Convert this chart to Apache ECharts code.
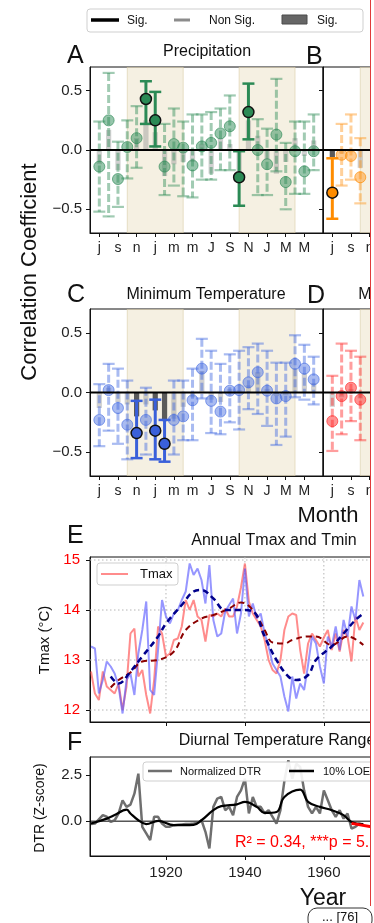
<!DOCTYPE html>
<html><head><meta charset="utf-8">
<script src="https://cdn.jsdelivr.net/npm/echarts@6/dist/echarts.min.js"></script>
<style>html,body{margin:0;padding:0;background:#fff;overflow:hidden;width:374px;height:923px}#c{width:640px;height:923px}</style>
</head><body><div id="c"></div><script>
const FONT = "'Liberation Sans', Arial, Helvetica, sans-serif";

// ---------- month panels ----------
const monthLabels = ['j','a','s','o','n','d','j','f','m','a','m','j','J','A','S','O','N','D','J','F','M','A','M','J'];
const monthTicks = [0,2,4,6,8,10,12,14,16,18,20,22];
const seasonSpans = [[3,9],[15,21]];
const corrTicks = [-0.5, 0, 0.5];

// A: Precipitation
const precipR   = [-0.14, 0.25, -0.245, 0.025, 0.10, 0.43, 0.25, -0.14, 0.05, 0.02, -0.13, 0.03, 0.06, 0.14, 0.20, -0.23, 0.32, 0.00, -0.12, 0.13, -0.27, -0.01, -0.18, -0.01];
const precipHi  = [0.24, 0.65, 0.07, 0.25, 0.37, 0.58, 0.49, 0.22, 0.35, 0.24, 0.30, 0.30, 0.32, 0.35, 0.46, -0.01, 0.56, 0.26, 0.18, 0.60, 0.06, 0.24, 0.24, 0.30];
const precipLo  = [-0.52, -0.56, -0.48, -0.24, -0.15, 0.22, 0.03, -0.38, -0.30, -0.39, -0.40, -0.25, -0.25, -0.17, -0.17, -0.47, 0.09, -0.38, -0.38, -0.18, -0.50, -0.37, -0.37, -0.17];
const precipBar = [-0.12, 0.17, -0.17, 0.00, 0.10, 0.25, 0.15, -0.22, -0.12, -0.10, -0.10, 0.05, -0.20, 0.10, 0.05, -0.20, 0.25, 0.12, -0.08, -0.20, -0.10, 0.10, -0.05, 0.08];
const precipSig = [5, 6, 15, 16];
const precipBarSig = [];

// B (orange, visible part)
const panelBR   = [-0.36, -0.04, -0.05, -0.23];
const panelBHi  = [-0.07, 0.22, 0.30, 0.10];
const panelBLo  = [-0.58, -0.30, -0.25, -0.45];
const panelBBar = [-0.06, -0.03, -0.02, -0.15];
const panelBSig = [0];
const panelBBarSig = [0];

// C: Minimum Temperature
const tminR   = [-0.23, 0.02, -0.13, -0.27, -0.34, -0.23, -0.32, -0.43, -0.23, -0.20, -0.065, 0.20, -0.07, -0.16, 0.015, 0.02, 0.085, 0.17, 0.015, -0.05, -0.03, 0.24, 0.20, 0.11];
const tminHi  = [0.07, 0.24, 0.20, 0.10, -0.07, 0.04, -0.06, -0.23, 0.10, 0.10, 0.20, 0.45, 0.35, 0.24, 0.32, 0.35, 0.38, 0.41, 0.35, 0.25, 0.25, 0.48, 0.40, 0.30];
const tminLo  = [-0.45, -0.32, -0.43, -0.56, -0.55, -0.52, -0.56, -0.58, -0.52, -0.40, -0.40, -0.05, -0.34, -0.35, -0.25, -0.31, -0.14, -0.18, -0.28, -0.44, -0.37, -0.04, -0.06, -0.10];
const tminBar = [-0.13, 0.04, -0.08, -0.10, -0.20, -0.10, -0.15, -0.24, -0.22, -0.12, -0.04, 0.18, -0.06, -0.08, 0.03, 0.02, 0.06, 0.17, 0.03, -0.03, -0.02, 0.20, 0.16, 0.08];
const tminSig = [4, 6, 7];
const tminBarSig = [4, 6, 7];

// D: Maximum Temperature (visible part)
const tmaxCorrR   = [-0.24, -0.03, 0.04, -0.06];
const tmaxCorrHi  = [0.14, 0.41, 0.35, 0.30];
const tmaxCorrLo  = [-0.49, -0.35, -0.24, -0.40];
const tmaxCorrBar = [-0.12, -0.04, 0.03, -0.05];
const tmaxCorrSig = [];
const tmaxCorrBarSig = [];

// ---------- E: annual Tmax / Tmin ----------
const startYear = 1901;
const tmaxAnnual = [12.77,12.33,12.2,12.77,12.47,12.4,12.33,12.53,12.0,12.47,13.53,13.63,12.67,12.8,12.3,11.93,12.6,13.67,13.53,13.07,
  13.13,13.4,13.43,13.67,14.2,14.0,14.2,13.87,13.8,13.37,13.9,13.87,13.93,13.87,14.03,13.87,13.87,14.07,14.45,14.93,
  14.17,13.93,13.8,13.67,13.4,13.0,12.8,12.73,13.0,13.6,13.87,13.93,13.9,13.2,12.73,13.33,13.53,13.4,13.27,13.45,
  13.6,13.2,13.53,13.17,13.6,13.47,12.97,13.87,13.6,13.75];
const tminAnnual = [13.27,13.23,12.33,12.6,12.97,12.87,12.73,12.47,11.93,12.6,12.73,12.3,13.13,13.6,14.17,12.4,12.3,13.2,14.2,13.87,
  13.73,13.93,14.0,14.2,14.37,14.93,14.7,14.83,14.6,14.13,14.9,13.8,13.47,13.53,13.97,14.1,14.23,13.53,13.93,14.83,
  13.87,14.13,13.83,13.93,13.53,13.27,12.93,12.8,12.67,12.27,11.97,12.67,12.23,12.53,12.4,12.9,13.47,13.33,12.87,12.53,
  13.47,13.27,13.67,13.2,13.8,13.47,14.07,13.8,14.6,14.27];
const tmaxSmoothYears = [1906,1908,1911,1914,1918,1922,1925,1929,1932,1936,1939,1942,1945,1947,1950,1952,1956,1958,1962,1966,1970];
const tmaxSmooth = [12.45,12.6,12.75,12.97,13.0,13.17,13.6,13.83,13.9,14.03,14.15,14.0,13.6,13.35,13.33,13.4,13.47,13.47,13.3,13.47,13.3];
const tminSmoothYears = [1906,1908,1911,1914,1918,1920,1924,1927,1929,1932,1935,1939,1942,1945,1948,1951,1953,1956,1958,1962,1965,1968,1970];
const tminSmooth = [12.67,12.53,12.77,13.07,13.47,13.73,14.1,14.37,14.4,14.23,14.0,14.0,13.97,13.47,13.0,12.67,12.6,12.7,13.0,13.27,13.53,13.8,13.93];
const tempTicks = [12, 13, 14, 15];
const yearTicks = [1920, 1940, 1960, 1980];

// ---------- F: DTR ----------
const dtrAnnual = [-0.16,-0.13,0.1,0.33,0.24,-0.04,0.05,0.42,1.14,0.78,0.9,1.5,2.59,-0.31,-0.67,-1.03,0.24,0.24,-0.13,-0.31,
  -0.3,-0.22,-0.2,-0.18,-0.16,-0.15,-0.13,-0.1,0.05,-0.58,-1.49,0.78,1.23,1.32,0.6,0.78,0.33,1.32,1.68,2.32,
  0.42,1.32,0.78,0.78,0.42,0.6,0.24,-0.13,0.6,2.2,3.32,2.32,3.13,2.95,1.68,0.78,0.42,0.78,0.42,1.68,
  1.14,0.6,0.24,0.6,0.14,0.42,-0.4,-0.31,-0.13,-0.22];
const loessYears = [1901,1905,1907,1910,1911,1913,1915,1918,1922,1927,1929,1932,1934,1938,1940,1943,1945,1948,1950,1954,1956,1959,1962,1965,1967,1970];
const loessDTR = [-0.13,0.14,0.33,0.63,0.42,0.05,-0.16,0.02,-0.22,-0.2,0.05,0.6,0.82,0.92,1.05,0.78,0.45,0.5,1.32,1.72,1.05,0.78,0.6,0.33,-0.04,-0.16];
const trendYears = [1967, 1972];
const trendDTR = [-0.12, -0.3];
const dtrTicks = [0, 2.5];

// ---------- helpers ----------
const colGreen  = {solid:'#2b8a55', light:'rgba(46,139,87,0.5)', edge:'rgba(46,139,87,0.65)', err:'rgba(46,139,87,0.45)'};
const colOrange = {solid:'#ff8c00', light:'rgba(255,150,30,0.5)', edge:'rgba(255,140,0,0.65)', err:'rgba(255,150,30,0.45)'};
const colBlue   = {solid:'#3a60da', light:'rgba(65,105,225,0.45)', edge:'rgba(65,105,225,0.6)', err:'rgba(65,105,225,0.45)'};
const colRed    = {solid:'#ff2a2a', light:'rgba(255,40,40,0.5)', edge:'rgba(255,40,40,0.65)', err:'rgba(255,40,40,0.45)'};

function shadeItem(params, api) {
  const a = api.coord([api.value(0), 0.7]);
  const b = api.coord([api.value(1), -0.7]);
  return {type:'rect', shape:{x:a[0], y:a[1], width:b[0]-a[0], height:b[1]-a[1]},
    style:{fill:'rgba(233,222,190,0.45)', stroke:'rgba(215,200,160,0.55)', lineWidth:1}};
}
function barItem(params, api) {
  const x = api.value(0), v = api.value(1), s = api.value(2);
  const a = api.coord([x - 0.28, 0]);
  const b = api.coord([x + 0.28, v]);
  return {type:'rect', shape:{x:a[0], y:Math.min(a[1], b[1]), width:b[0]-a[0], height:Math.abs(b[1]-a[1])},
    style:{fill: s ? '#5a5a5a' : 'rgba(150,150,150,0.45)'}};
}
function errItem(col) {
  return function(params, api) {
    const x = api.value(0), lo = api.value(1), hi = api.value(2), s = api.value(3);
    const t = api.coord([x, hi]), b = api.coord([x, lo]);
    const stroke = s ? col.solid : col.err;
    const capStyle = {stroke: stroke, lineWidth: s ? 2.5 : 2.2};
    return {type:'group', children:[
      {type:'line', shape:{x1:t[0], y1:t[1], x2:b[0], y2:b[1]}, style:{stroke: stroke, lineWidth: 3, lineDash: s ? null : [8, 3]}},
      {type:'line', shape:{x1:t[0]-6, y1:t[1], x2:t[0]+6, y2:t[1]}, style:capStyle},
      {type:'line', shape:{x1:b[0]-6, y1:b[1], x2:b[0]+6, y2:b[1]}, style:capStyle}
    ]};
  };
}
function monthSeries(g, r, lo, hi, bars, sig, barSig, col) {
  const base = {xAxisIndex:g, yAxisIndex:g, silent:true, animation:false};
  return [
    Object.assign({}, base, {type:'custom', z:1, clip:true, data:seasonSpans, renderItem:shadeItem}),
    Object.assign({}, base, {type:'custom', z:2, clip:true, data:bars.map((v,i)=>[i, v, barSig.includes(i)?1:0]), renderItem:barItem}),
    Object.assign({}, base, {type:'custom', z:3, clip:true, data:r.map((v,i)=>[i, lo[i], hi[i], sig.includes(i)?1:0]), renderItem:errItem(col)}),
    Object.assign({}, base, {type:'scatter', z:4, symbolSize:11, data:r.map((v,i)=> sig.includes(i)
      ? {value:[i,v], itemStyle:{color:col.solid, borderColor:'#111', borderWidth:1.5, opacity:1}}
      : {value:[i,v], itemStyle:{color:col.light, borderColor:col.edge, borderWidth:1, opacity:1}})}),
    Object.assign({}, base, {type:'line', z:5, symbol:'none', data:[[-1,0],[24,0]], lineStyle:{color:'#000', width:2}})
  ];
}
const axLine = {show:true, onZero:false, lineStyle:{color:'#111', width:1}};
function tick(vals) { return {show:true, inside:false, customValues:vals, length:4, lineStyle:{color:'#111', width:1}}; }
function monthX(g, showLabel) {
  return {gridIndex:g, type:'value', position:'bottom', min:-1, max:24,
    axisLine:axLine, splitLine:{show:false}, axisTick:tick(monthTicks),
    axisLabel:{show:showLabel, customValues:monthTicks, formatter:v=>monthLabels[Math.round(v)], fontSize:14, color:'#222', margin:8, fontFamily:FONT}};
}
function corrY(g, showLabel) {
  return {gridIndex:g, type:'value', position:'left', min:-0.7, max:0.7,
    axisLine:axLine, splitLine:{show:false}, axisTick:tick(corrTicks),
    axisLabel:{show:showLabel, customValues:corrTicks, formatter:v=>v.toFixed(1).replace('-','\u2212'), fontSize:15, color:'#222', margin:8, fontFamily:FONT}};
}
function gridLineItem(params, api) {
  const cs = params.coordSys;
  const kind = api.value(0), v = api.value(1);
  let shape;
  if (kind === 0) { const p = api.coord([v, 13]); shape = {x1:p[0], y1:cs.y, x2:p[0], y2:cs.y+cs.height}; }
  else { const p = api.coord([1950, v]); shape = {x1:cs.x, y1:p[1], x2:cs.x+cs.width, y2:p[1]}; }
  return {type:'line', shape:shape, style:{stroke:'#b5b5b5', lineWidth:1, lineDash:[1.5, 2.5]}};
}

const border = {show:true, borderColor:'#111', borderWidth:1, backgroundColor:'transparent'};
const grids = [
  Object.assign({left:90, top:67, width:233, height:166}, border),
  Object.assign({left:323, top:67, width:233, height:166}, border),
  Object.assign({left:90, top:309, width:233, height:167}, border),
  Object.assign({left:323, top:309, width:233, height:167}, border),
  Object.assign({left:90, top:557, width:372, height:165}, border),
  Object.assign({left:90, top:757, width:372, height:99}, border)
];

const xAxes = [monthX(0,true), monthX(1,true), monthX(2,true), monthX(3,true),
  {gridIndex:4, type:'value', position:'bottom', min:1900.75, max:1995, axisLine:axLine, splitLine:{show:false},
   axisTick:tick(yearTicks), axisLabel:{show:false}},
  {gridIndex:5, type:'value', position:'bottom', min:1900.75, max:1995, axisLine:axLine, splitLine:{show:false},
   axisTick:tick(yearTicks),
   axisLabel:{show:true, customValues:yearTicks, formatter:v=>String(v), fontSize:15, color:'#222', margin:9, fontFamily:FONT}}
];
const yAxes = [corrY(0,true), corrY(1,false), corrY(2,true), corrY(3,false),
  {gridIndex:4, type:'value', position:'left', min:11.76, max:15.06, axisLine:axLine, splitLine:{show:false},
   axisTick:tick(tempTicks),
   axisLabel:{show:true, customValues:tempTicks, formatter:v=>String(v), fontSize:15, color:'#ff0000', margin:10, fontFamily:FONT}},
  {gridIndex:5, type:'value', position:'left', min:-1.9, max:3.5, axisLine:axLine, splitLine:{show:false},
   axisTick:tick(dtrTicks),
   axisLabel:{show:true, customValues:dtrTicks, formatter:v=>v.toFixed(1), fontSize:15, color:'#222', margin:8, fontFamily:FONT}}
];

const yr = i => startYear + i;
const series = [].concat(
  monthSeries(0, precipR, precipLo, precipHi, precipBar, precipSig, precipBarSig, colGreen),
  monthSeries(1, panelBR, panelBLo, panelBHi, panelBBar, panelBSig, panelBBarSig, colOrange),
  monthSeries(2, tminR, tminLo, tminHi, tminBar, tminSig, tminBarSig, colBlue),
  monthSeries(3, tmaxCorrR, tmaxCorrLo, tmaxCorrHi, tmaxCorrBar, tmaxCorrSig, tmaxCorrBarSig, colRed),
  [
    {type:'custom', xAxisIndex:4, yAxisIndex:4, z:1, silent:true, clip:true,
     data:[].concat(yearTicks.map(v=>[0,v]), tempTicks.map(v=>[1,v])), renderItem:gridLineItem},
    {type:'line', xAxisIndex:4, yAxisIndex:4, z:2, symbol:'none', silent:true,
     data:tmaxAnnual.map((v,i)=>[yr(i), v]), lineStyle:{color:'rgba(255,70,70,0.62)', width:2}},
    {type:'line', xAxisIndex:4, yAxisIndex:4, z:3, symbol:'none', silent:true,
     data:tminAnnual.map((v,i)=>[yr(i), v]), lineStyle:{color:'rgba(85,85,255,0.62)', width:2}},
    {type:'line', xAxisIndex:4, yAxisIndex:4, z:4, symbol:'none', silent:true, smooth:0.4,
     data:tmaxSmoothYears.map((y,i)=>[y, tmaxSmooth[i]]), lineStyle:{color:'#8b0000', width:2, type:[6,4]}},
    {type:'line', xAxisIndex:4, yAxisIndex:4, z:5, symbol:'none', silent:true, smooth:0.4,
     data:tminSmoothYears.map((y,i)=>[y, tminSmooth[i]]), lineStyle:{color:'#00008b', width:2.5, type:[6,4]}},

    {type:'line', xAxisIndex:5, yAxisIndex:5, z:1, symbol:'none', silent:true,
     data:[[1900.75,0],[1995,0]], lineStyle:{color:'#000', width:1}},
    {type:'line', xAxisIndex:5, yAxisIndex:5, z:2, symbol:'none', silent:true,
     data:dtrAnnual.map((v,i)=>[yr(i), v]), lineStyle:{color:'rgba(95,95,95,0.9)', width:2.5}},
    {type:'line', xAxisIndex:5, yAxisIndex:5, z:3, symbol:'none', silent:true, smooth:0.4,
     data:loessYears.map((y,i)=>[y, loessDTR[i]]), lineStyle:{color:'#000', width:2.2}},
    {type:'line', xAxisIndex:5, yAxisIndex:5, z:4, symbol:'none', silent:true,
     data:trendYears.map((y,i)=>[y, trendDTR[i]]), lineStyle:{color:'#ff0000', width:3}}
  ]
);

function txt(x, y, text, size, opts) {
  return Object.assign({type:'text', x:x, y:y, silent:true,
    style:Object.assign({text:text, font: size + 'px ' + FONT, fill:'#111', textAlign:'left', textVerticalAlign:'middle', align:'left', verticalAlign:'middle'}, opts && opts.style || {})},
    opts && opts.el || {});
}
const C = {textAlign:'center', align:'center'};
const graphics = [
  // top legend
  {type:'rect', shape:{x:87, y:9, width:276, height:23, r:3}, style:{fill:'#fff', stroke:'#cfcfcf', lineWidth:1}, silent:true},
  {type:'line', shape:{x1:91, y1:20, x2:119, y2:20}, style:{stroke:'#000', lineWidth:3.5}, silent:true},
  txt(127, 20.5, 'Sig.', 12),
  {type:'line', shape:{x1:174, y1:20, x2:190, y2:20}, style:{stroke:'#8c8c8c', lineWidth:3}, silent:true},
  txt(209, 20.5, 'Non Sig.', 12),
  {type:'rect', shape:{x:282, y:15, width:25, height:9}, style:{fill:'#666', stroke:'#4a4a4a', lineWidth:1}, silent:true},
  txt(317, 20.5, 'Sig.', 12),
  // panel letters & titles
  txt(67, 56, 'A', 25),
  txt(207, 52, 'Precipitation', 16, {style:C}),
  txt(306, 57, 'B', 25),
  txt(67, 295, 'C', 25),
  txt(206, 295, 'Minimum Temperature', 16, {style:C}),
  txt(307, 296, 'D', 25),
  txt(440, 295, 'Maximum Temperature', 16, {style:C}),
  txt(30, 272, 'Correlation Coefficient', 22, {style:C, el:{rotation:Math.PI/2}}),
  txt(328, 516, 'Month', 22, {style:C}),
  // E
  txt(67, 536, 'E', 25),
  txt(274, 541, 'Annual Tmax and Tmin', 16, {style:C}),
  txt(45, 640, 'Tmax (\u00B0C)', 15, {style:C, el:{rotation:Math.PI/2}}),
  {type:'rect', shape:{x:97, y:563, width:81, height:22, r:3}, style:{fill:'rgba(255,255,255,0.9)', stroke:'#cfcfcf', lineWidth:1}, silent:true, z:10},
  {type:'line', shape:{x1:101, y1:574, x2:128, y2:574}, style:{stroke:'rgba(255,70,70,0.62)', lineWidth:2}, silent:true, z:11},
  txt(140, 574.5, 'Tmax', 13, {el:{z:11}}),
  // F
  txt(67, 743, 'F', 25),
  txt(277, 741, 'Diurnal Temperature Range', 16, {style:C}),
  txt(40, 808, 'DTR (Z-score)', 14, {style:C, el:{rotation:Math.PI/2}}),
  {type:'rect', shape:{x:143, y:762, width:240, height:19, r:3}, style:{fill:'rgba(255,255,255,0.9)', stroke:'#cfcfcf', lineWidth:1}, silent:true, z:10},
  {type:'line', shape:{x1:148, y1:771, x2:172, y2:771}, style:{stroke:'rgba(95,95,95,0.9)', lineWidth:2.5}, silent:true, z:11},
  txt(180, 771.5, 'Normalized DTR', 11, {el:{z:11}}),
  {type:'line', shape:{x1:289, y1:771, x2:314, y2:771}, style:{stroke:'#000', lineWidth:2.5}, silent:true, z:11},
  txt(323, 771.5, '10% LOESS', 11, {el:{z:11}}),
  txt(235, 843, 'R\u00B2 = 0.34, ***p = 5.1e-08', 16, {style:{fill:'#ff0000'}, el:{z:11}}),
  txt(323, 899, 'Year', 23, {style:C}),
  // page frame
  {type:'rect', shape:{x:370.5, y:0, width:300, height:923}, style:{fill:'#fff'}, silent:true, z:100},
  {type:'line', shape:{x1:370.5, y1:0, x2:370.5, y2:906}, style:{stroke:'#e03a3a', lineWidth:1}, silent:true, z:101},
  {type:'rect', shape:{x:308, y:908, width:64, height:22, r:9}, style:{fill:'#fff', stroke:'#333', lineWidth:1}, silent:true, z:102},
  txt(340, 917, '... [76]', 13, {style:C, el:{z:103}})
];

const chart = echarts.init(document.getElementById('c'), null, {renderer:'canvas'});
chart.setOption({
  backgroundColor:'#fff',
  animation:false,
  grid:grids, xAxis:xAxes, yAxis:yAxes, series:series, graphic:graphics
});
</script></body></html>
